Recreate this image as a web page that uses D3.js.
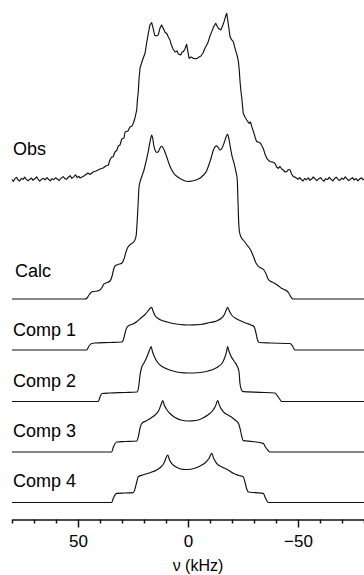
<!DOCTYPE html>
<html>
<head>
<meta charset="utf-8">
<script src="https://cdn.jsdelivr.net/npm/d3@7/dist/d3.min.js"></script>
<style>
  html, body { margin: 0; padding: 0; background: #fff; }
  svg { display: block; }
  text { font-family: "Liberation Sans", Arial, Helvetica, sans-serif; fill: #000; }
</style>
</head>
<body>
<svg id="chart" width="364" height="575"></svg>
<script>
// 2H NMR spectra: observed, calculated and the four component powder patterns.
// Each series is a list of [frequency (kHz), relative intensity].

const obs = [
  [80,0.3],[79.4,-0.9],[78.7,0.8],[78,1.6],[77.3,0.2],[76.5,-0.6],[75.8,0.9],[75,0.4],[74.2,1.7],
  [73.6,0.5],[72.8,-0.4],[72,0.3],[71.1,1.2],[70.5,-0.2],[69.6,0.7],[68.8,1.9],[68.2,0.6],
  [67.4,-0.7],[66.6,0.4],[65.7,1.0],[65,0.1],[64.1,1.4],[63.3,0.3],[62.6,-0.5],[61.8,0.8],
  [61,0.2],[60.2,1.3],[59.4,0.6],[58.5,-0.3],[57.7,1.1],[56.8,2.0],[56,0.9],[55.3,0.4],
  [54.5,1.5],[53.6,2.6],[52.8,1.0],[52,1.9],[51.1,3.1],[50.4,1.4],[49.6,2.2],[49.1,1.2],
  [47.3,2.4],[45.5,4.2],[44.5,3.3],[43.2,4.8],[41.8,5.4],[40,6.6],[38.6,7.2],
  [37.3,8.4],[36.2,9.0],[35.5,12],[34.7,13.8],[34.1,13.8],[33.2,16.8],[32.3,18],[31.7,20.4],
  [30.9,21],[30.1,24.6],[29.1,25.2],[28.6,28.8],[27.3,29.4],[26.4,31.8],[25.5,32.4],[25,33.6],
  [24.1,37.2],[23.3,42],[23,48],[22.6,52.8],[22.3,60],[21.8,67.2],[21.1,70.2],[20.5,72.6],
  [19.5,76.2],[18.8,82.2],[18,88.2],[17.3,93],[16.5,94.4],[15.9,91.2],[15.2,87],[14.5,86.4],
  [13.5,87],[12.7,91.2],[12,93],[11.1,90.6],[10.5,88.8],[9.5,87.6],[8.95,85.8],[8.2,84],
  [7.7,81.6],[6.8,78.6],[5.9,76.8],[5,77.4],[4.4,75.6],[3.3,75],[2.7,76.8],[2.1,77],[1.4,78.6],
  [0.6,81.4],[0.2,78],[-0.5,73],[-1.4,73.8],[-2.4,73],[-4,72.8],[-5,73.8],[-5.9,74.4],
  [-6.8,76.2],[-7.7,79],[-8.5,81],[-9.2,83],[-10,86.4],[-10.8,89],[-11.6,91.8],[-12.6,94],
  [-13.2,92.4],[-13.8,91],[-14.9,90],[-15.7,92.4],[-16.4,95],[-17,97.8],[-17.6,100],[-18.2,94.8],
  [-19.1,86],[-19.9,84],[-20.6,83],[-21.2,79.8],[-21.8,77],[-22.4,74.4],[-22.9,71],[-23.3,66],
  [-23.6,60],[-24,54],[-24.4,49.8],[-24.8,44.4],[-25.1,40],[-25.9,37.8],[-26.7,36],[-27.3,34.8],
  [-27.9,34],[-28.4,34.8],[-29,32],[-29.5,30],[-30,28],[-30.6,25.2],[-31.2,23],[-32,22.8],
  [-33,22],[-33.6,20.4],[-34.2,19],[-35,15.6],[-35.8,13],[-36.5,12],[-37.3,11],[-38.4,10.8],
  [-39.5,10],[-40.3,7.8],[-41,7],[-41.8,8.1],[-42.6,6.6],[-43.3,6],[-44.1,4.8],[-44.9,5],
  [-45.6,6.3],[-46.4,6],[-47.1,3.6],[-47.9,2],[-48.6,1.8],[-49.4,1],
  [-50,0.4],[-50.7,1.5],[-51.5,0.3],[-52.3,-0.6],[-53,0.9],[-53.8,0.2],[-54.7,1.3],[-55.4,-0.2],
  [-56.2,0.6],[-57,1.8],[-57.9,0.5],[-58.6,-0.4],[-59.4,0.7],[-60.3,1.4],[-61.1,0.1],[-61.8,-0.7],
  [-62.6,0.8],[-63.5,0.3],[-64.2,1.6],[-65,0.4],[-65.9,-0.5],[-66.6,0.9],[-67.4,1.7],[-68.3,0.2],
  [-69,-0.3],[-69.8,1.1],[-70.7,0.4],[-71.5,1.9],[-72.3,0.6],[-73.1,-0.4],[-74,0.7],[-74.8,1.4],
  [-75.5,0.0],[-76.4,0.9],[-77.2,-0.5],[-78,0.6],[-78.9,1.3],[-79.5,0.2],[-80,0.5]
];

const calc = [
  [80,0],[46.8,0],[45.9,0.6],[45,2.4],[44.1,3.9],[43.2,4.4],[41.4,4.8],[40,5.4],[39.1,6.9],
  [38.2,9],[37.3,9.6],[35.5,10.8],[34.5,13.8],[33.9,17.4],[33.2,19.8],[31.8,20.7],[30,21.6],
  [29.1,24],[28.2,28.2],[27.3,31.2],[25.9,33],[24.5,34.5],[23.6,37.8],[23.2,44.4],[22.7,56.4],
  [22.3,66.6],[21.8,70.2],[20.9,73.8],[20,77.4],[19.1,82.2],[18.4,86.4],[17.7,91.2],[17.1,95.4],
  [16.5,98.4],[16,96],[15.5,91.8],[14.8,88.8],[14.1,87.9],[13.4,88.5],[12.7,90.6],[12,91.8],
  [11.4,90.9],[10.5,88.2],[9.5,84.6],[8.6,81],[7.5,77.7],[6.4,75.3],[5,73.5],[3.6,72.3],
  [1.8,71.1],[0,70.5],[-1.8,70.8],[-3.6,71.4],[-5.5,72.6],[-6.8,74.1],[-8.2,76.2],[-9.3,79.8],
  [-10.5,84.6],[-11.4,88.8],[-12.3,91.2],[-13,91.9],[-13.9,90.6],[-14.5,89.4],[-15.5,90.6],
  [-16.4,93.6],[-17.3,97.2],[-18,98.8],[-18.6,96],[-19.3,90.6],[-20,85.8],[-20.9,81.6],
  [-21.8,76.2],[-22.4,71.4],[-22.7,59.4],[-23,47.4],[-23.4,40.2],[-24.1,37.2],[-25.5,34.8],
  [-26.8,32.4],[-28.2,30],[-29.1,27.6],[-30,24.6],[-30.9,21.6],[-31.8,19.8],[-33.2,18.6],
  [-34.5,17.4],[-35.5,15],[-36.4,12],[-37.3,10.8],[-39.1,9.6],[-40.9,8.1],[-42.3,6.6],
  [-43.6,5.7],[-45,4.8],[-45.9,3.3],[-46.8,1.2],[-47.7,0],[-80,0]
];

const comp1 = [
  [80,0],[46,0],[45,2.4],[43.8,3.9],[42.3,4.2],[35.5,4.5],[30.1,4.8],[29.4,6],[28.6,10.2],
  [27.9,13.2],[26.8,14.7],[25,15.6],[23.2,17.1],[21.4,19.2],[19.5,21.3],[18.2,23.4],[17.3,24.9],
  [16.5,25.6],[15.9,23.4],[15,20.7],[13.6,18.9],[11.8,17.7],[9.5,16.8],[6.8,15.9],[3.6,15.3],
  [0,15],[-5.5,15.3],[-10,16.5],[-13,17.4],[-15,18.9],[-16.4,21],[-17.3,23.7],[-18,25.6],
  [-18.9,23.1],[-20,20.7],[-21.8,18.9],[-24.1,17.4],[-26.7,16],[-28.6,15],[-30,14.1],
  [-30.9,10.2],[-31.6,6],[-32.3,4.5],[-37.3,4.2],[-46.4,3.9],[-47.5,2.4],[-48.6,0],[-80,0]
];

const comp2 = [
  [80,0],[40.8,0],[40,2.7],[39.1,4.8],[35.5,5.1],[28.6,5.4],[23.2,5.7],[22.5,8.1],[21.8,15.9],
  [21,20.7],[20,23.1],[18.9,26.1],[18,29.1],[17.3,31.5],[16.8,32.9],[16.1,29.7],[15,26.1],
  [13.6,23.1],[11.8,21],[9.5,19.5],[6.8,18.3],[3.6,17.4],[0,17.1],[-5.5,17.4],[-9.1,18.3],
  [-11.8,19.5],[-14.1,21.3],[-15.7,23.4],[-16.8,26.7],[-17.5,29.7],[-18,32.9],[-18.6,30.3],
  [-19.5,27.3],[-20.9,24.3],[-22.3,21.3],[-23.2,17.7],[-23.6,11.1],[-24.3,6.9],[-25.1,5.9],
  [-32.7,5.5],[-39.5,5.1],[-40.7,3.3],[-41.8,1.2],[-42.6,0],[-80,0]
];

const comp3 = [
  [80,0],[34.7,0],[33.9,3],[32.4,6],[28.6,6.3],[23.3,6.6],[22.5,9.6],[21.8,14.4],[21,17.2],
  [19.1,18.6],[16.8,20.4],[15,22.2],[13.4,24.6],[12.3,28.2],[11.5,30.8],[10.7,27.9],[9.5,25.2],
  [8.2,23.1],[5.9,20.7],[3.2,19.2],[0,18.6],[-3.6,18.9],[-6.8,20.4],[-9.3,22.5],[-11.1,24.6],
  [-12.5,27.6],[-13.5,30.8],[-14.3,27.9],[-16,24.2],[-18.2,22.2],[-20,20.7],[-21.4,19.2],
  [-22.9,17.2],[-23.6,14.4],[-24.4,9.6],[-25.1,6.8],[-29.1,6.3],[-34.2,5.2],[-35.2,3],
  [-36.4,0.9],[-37.3,0],[-80,0]
];

const comp4 = [
  [80,0],[34.7,0],[33.9,2.7],[32.4,5.5],[28.6,5.7],[24.9,5.9],[24.1,8.1],[23.3,12.3],[22.6,15.5],
  [20.5,16.5],[17.7,17.7],[14.2,19.5],[12.3,21.3],[10.9,23.7],[10,26.7],[9.2,28.5],[8.4,25.5],
  [6.7,22.5],[4.5,20.7],[2.3,19.9],[0,19.8],[-2.7,20.4],[-5.5,21.9],[-7.7,23.7],[-9.5,26.4],
  [-10.8,29.5],[-11.6,26.7],[-13,23.5],[-15.5,21.3],[-18.2,19.5],[-20.6,17.5],[-23.2,16.2],
  [-25.1,15.5],[-25.9,12.3],[-26.7,8.1],[-27.5,6.3],[-30.5,5.9],[-34.2,5.5],[-35.2,2.7],
  [-36.5,0],[-80,0]
];

const traceNames = ["Obs", "Calc", "Comp 1", "Comp 2", "Comp 3", "Comp 4"];
const traceData = [obs, calc, comp1, comp2, comp3, comp4];

const majorTicks = [50, 0, -50];
const minorTicks = [80, 70, 60, 40, 30, 20, 10, -10, -20, -30, -40, -60, -70, -80];
const axisTitle = "\u03BD (kHz)";

// ---- layout ----
const svg = d3.select("#chart");
const x = d3.scaleLinear().domain([80, -80]).range([12, 364]);
const baselines = [180, 299, 350, 401.5, 452, 502.5];
const labelBaselines = [155, 276.5, 336, 387, 437, 487];
const labelX = [13, 15, 13, 13, 13, 13];
const intensityPx = 1.667; // pixels per intensity unit

traceData.forEach((series, i) => {
  const y = d3.scaleLinear()
    .domain([0, 100])
    .range([baselines[i], baselines[i] - 100 * intensityPx]);
  const line = d3.line()
    .x(d => x(d[0]))
    .y(d => y(d[1]))
    .curve(i === 0 ? d3.curveLinear : d3.curveMonotoneX);
  svg.append("path")
    .datum(series)
    .attr("d", line)
    .attr("fill", "none")
    .attr("stroke", "#111")
    .attr("stroke-width", 1.15)
    .attr("stroke-linejoin", "round");
  svg.append("text")
    .attr("x", labelX[i])
    .attr("y", labelBaselines[i])
    .attr("font-size", 18)
    .text(traceNames[i]);
});

// ---- frequency axis ----
const axisY = 519.5;
const minorAxis = d3.axisBottom(x)
  .tickValues(minorTicks)
  .tickSize(4)
  .tickSizeOuter(0)
  .tickFormat("");
const majorAxis = d3.axisBottom(x)
  .tickValues(majorTicks)
  .tickSize(8)
  .tickSizeOuter(0)
  .tickPadding(7)
  .tickFormat(d3.format("d"));

const gMinor = svg.append("g").attr("transform", `translate(0,${axisY})`).call(minorAxis);
const gMajor = svg.append("g").attr("transform", `translate(0,${axisY})`).call(majorAxis);
gMajor.select(".domain").remove();
[gMinor, gMajor].forEach(g => {
  g.selectAll("path, line").attr("stroke", "#111").attr("stroke-width", 1.5);
});
gMajor.selectAll("text")
  .attr("font-size", 17)
  .attr("font-family", "\"Liberation Sans\", Arial, Helvetica, sans-serif")
  .attr("fill", "#000");

svg.append("text")
  .attr("x", 198)
  .attr("y", 571)
  .attr("text-anchor", "middle")
  .attr("font-size", 16)
  .text(axisTitle);
</script>
</body>
</html>
